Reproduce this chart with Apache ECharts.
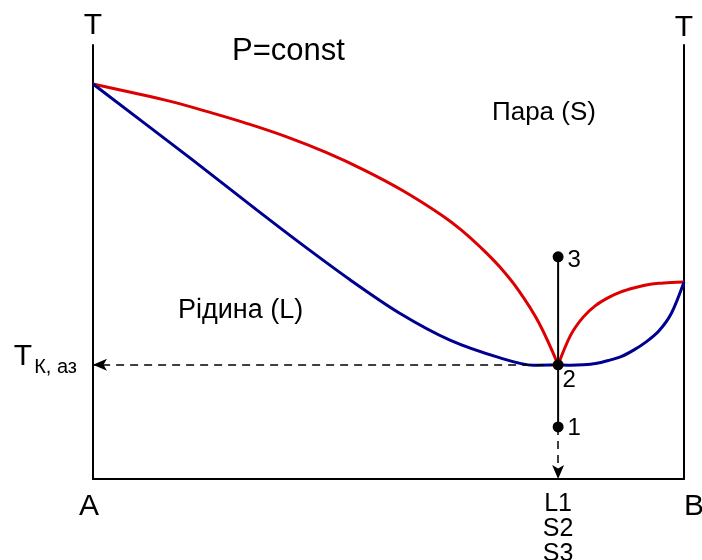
<!DOCTYPE html>
<html>
<head>
<meta charset="utf-8">
<script src="https://cdn.jsdelivr.net/npm/echarts@6/dist/echarts.min.js"></script>
<style>
  html, body { margin: 0; padding: 0; background: #fff; }
  #chart { width: 702px; height: 560px; }
</style>
</head>
<body>
<div id="chart"></div>
<script>
// Composition (0 = pure A, 1 = pure B) vs temperature, constant pressure.
const vaporLeft = [[0, 91.0], [0.0656, 89.06], [0.1311, 87.0], [0.1967, 84.52], [0.2623, 81.84],
  [0.3278, 78.83], [0.3934, 75.3], [0.4590, 71.17], [0.5245, 66.41], [0.5901, 60.78],
  [0.6229, 57.4], [0.6557, 53.39], [0.6885, 48.83], [0.7212, 43.25], [0.7540, 36.11], [0.787, 26.3]];
const liquidLeft = [[0, 91.0], [0.164, 74.0], [0.277, 62.0], [0.350, 54.4], [0.435, 45.9],
  [0.519, 38.2], [0.604, 32.0], [0.689, 27.9], [0.745, 26.2], [0.787, 26.3]];
const vaporRight = [[0.787, 26.3], [0.8080, 33.1], [0.8294, 37.3], [0.8507, 40.0], [0.8720, 41.8],
  [0.8934, 43.1], [0.9147, 44.0], [0.9360, 44.7], [0.9574, 45.1], [0.9787, 45.3], [1, 45.4]];
const liquidRight = [[0.787, 26.3], [0.8080, 26.2], [0.8294, 26.3], [0.8507, 26.6], [0.8720, 27.3],
  [0.8934, 28.2], [0.9147, 29.7], [0.9360, 31.6], [0.9574, 34.1], [0.9787, 38.2], [1, 45.4]];

// Azeotrope composition and temperature
const xAz = 0.787;
const tAz = 26.3;
// State points along the isopleth: [x, T, name]
const statePoints = [[xAz, 51.2, '3'], [xAz, tAz, '2'], [xAz, 12.0, '1']];
const isopleth = [[xAz, 51.2], [xAz, 12.0]];

// Axis label texts
const xTickValues = [0, xAz, 1];
const xTickTexts = ['A', 'L1\nS2\nS3', 'B'];
const yAxisName = 'T';
const azLabelMain = 'T';
const azLabelSub = 'К, аз';

const FONT = '"Liberation Sans", Arial, sans-serif';
const RED = '#dd0000';
const BLUE = '#000090';

const chart = echarts.init(document.getElementById('chart'), null, { renderer: 'canvas' });

const axisLine = { show: true, lineStyle: { color: '#000', width: 2 } };
const pointLabel = { fontFamily: FONT, fontSize: 24, color: '#000' };

chart.setOption({
  animation: false,
  backgroundColor: '#fff',
  grid: { left: 93, right: 18, top: 45, bottom: 81, containLabel: false, outerBoundsMode: 'none' },
  xAxis: {
    type: 'value', min: 0, max: 1,
    axisLine: axisLine,
    axisTick: { show: false },
    splitLine: { show: false },
    axisLabel: {
      customValues: xTickValues,
      margin: 13,
      alignMaxLabel: 'left',
      formatter: function (v) {
        const i = xTickValues.indexOf(v);
        if (i < 0) return '';
        if (i === 1) return '{s|' + xTickTexts[i].split('\n').join('}\n{s|') + '}';
        return i === 0 ? '{a|' + xTickTexts[i] + '}' : '{b|' + xTickTexts[i] + '}';
      },
      rich: {
        a: { fontFamily: FONT, fontSize: 30, color: '#000', lineHeight: 30, padding: [0, 8, 0, 0] },
        b: { fontFamily: FONT, fontSize: 30, color: '#000', lineHeight: 30 },
        s: { fontFamily: FONT, fontSize: 25, color: '#000', lineHeight: 25 }
      }
    }
  },
  yAxis: [{
    type: 'value', min: 0, max: 100, position: 'left',
    name: yAxisName, nameLocation: 'end', nameGap: 4,
    nameTextStyle: { fontFamily: FONT, fontSize: 30, color: '#000' },
    axisLine: axisLine,
    axisTick: { show: false },
    splitLine: { show: false },
    axisLabel: {
      customValues: [tAz],
      margin: 16,
      formatter: function () { return '{t|' + azLabelMain + '}{s|' + azLabelSub + '}'; },
      rich: {
        t: { fontFamily: FONT, fontSize: 30, color: '#000', padding: [0, 0, 16, 0] },
        s: { fontFamily: FONT, fontSize: 20, color: '#000', padding: [6, 0, 0, 2] }
      }
    }
  }, {
    type: 'value', min: 0, max: 100, position: 'right',
    name: yAxisName, nameLocation: 'end', nameGap: 2,
    nameTextStyle: { fontFamily: FONT, fontSize: 30, color: '#000' },
    axisLine: axisLine,
    axisTick: { show: false },
    splitLine: { show: false },
    axisLabel: { show: false }
  }],
  graphic: [
    { type: 'text', left: 232, top: 36, style: { text: 'P=const', font: '31px ' + FONT, fill: '#000' } },
    { type: 'text', left: 492, top: 100, style: { text: 'Пара (S)', font: '26px ' + FONT, fill: '#000' } },
    { type: 'text', left: 178, top: 297, style: { text: 'Рідина (L)', font: '27px ' + FONT, fill: '#000' } }
  ],
  series: [
    { type: 'line', data: vaporLeft, smooth: 0.4, showSymbol: false,
      lineStyle: { color: RED, width: 3 }, z: 3 },
    { type: 'line', data: liquidLeft, smooth: 0.3, showSymbol: false,
      lineStyle: { color: BLUE, width: 3 }, z: 3 },
    { type: 'line', data: vaporRight, smooth: 0.3, showSymbol: false,
      lineStyle: { color: RED, width: 3 }, z: 3 },
    { type: 'line', data: liquidRight, smooth: 0.3, showSymbol: false,
      lineStyle: { color: BLUE, width: 3 }, z: 3 },
    { type: 'line', data: isopleth, showSymbol: false,
      lineStyle: { color: '#000', width: 2 }, z: 2,
      markLine: {
        silent: true,
        symbol: ['none', 'arrow'],
        symbolSize: [9, 14],
        label: { show: false },
        lineStyle: { color: '#000', width: 1.5, type: [8, 6] },
        data: [
          [{ coord: [xAz, tAz] }, { coord: [0, tAz] }],
          [{ coord: [xAz, 12.0] }, { coord: [xAz, 0] }]
        ]
      }
    },
    { type: 'scatter', symbol: 'circle', symbolSize: 11, z: 5,
      itemStyle: { color: '#000', opacity: 1 },
      data: statePoints.map(function (p, i) {
        return {
          value: [p[0], p[1]],
          label: i === 1
            ? Object.assign({ show: true, position: [10, 9], align: 'left', verticalAlign: 'top' }, pointLabel)
            : Object.assign({ show: true, position: 'right', distance: 4, offset: [0, i === 0 ? 4 : 1] }, pointLabel)
        };
      }),
      label: Object.assign({
        formatter: function (p) { return statePoints[p.dataIndex][2]; }
      }, pointLabel)
    }
  ]
});
</script>
</body>
</html>
